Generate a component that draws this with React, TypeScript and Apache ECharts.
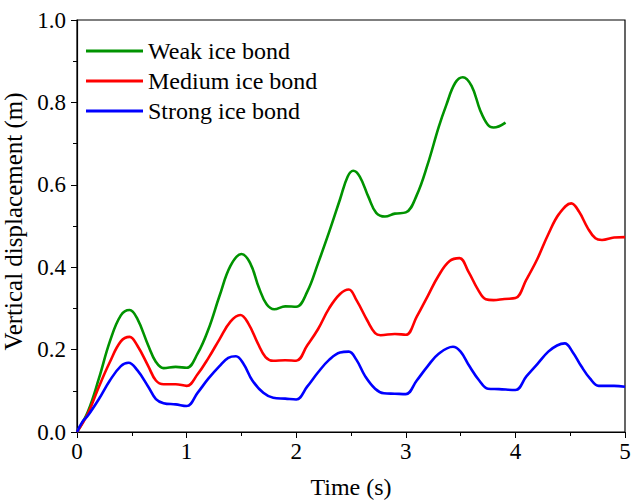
import React, { useEffect, useRef } from "react";
import * as echarts from "echarts";

const seriesNames = ["Weak ice bond", "Medium ice bond", "Strong ice bond"];
const seriesColors = ["#009300", "#ff0000", "#0000ff"];

const weak: [number, number][] = [
  [0, 0], [0.1, 0.05], [0.2, 0.13], [0.3, 0.22], [0.4, 0.283], [0.48, 0.296], [0.55, 0.275],
  [0.65, 0.21], [0.72, 0.17], [0.79, 0.155], [0.9, 0.158], [1.0, 0.156], [1.1, 0.19],
  [1.2, 0.25], [1.3, 0.33], [1.4, 0.403], [1.5, 0.432], [1.58, 0.41], [1.66, 0.35],
  [1.73, 0.31], [1.8, 0.298], [1.9, 0.305], [2.0, 0.304], [2.1, 0.34], [2.2, 0.41],
  [2.3, 0.485], [2.4, 0.565], [2.47, 0.62], [2.52, 0.634], [2.58, 0.62], [2.66, 0.57],
  [2.73, 0.532], [2.81, 0.523], [2.9, 0.53], [3.0, 0.533], [3.1, 0.575], [3.2, 0.65],
  [3.3, 0.74], [3.37, 0.794], [3.45, 0.847], [3.52, 0.861], [3.6, 0.84], [3.68, 0.78],
  [3.75, 0.745], [3.8, 0.739], [3.91, 0.751],
];

const medium: [number, number][] = [
  [0, 0], [0.1, 0.045], [0.2, 0.11], [0.3, 0.17], [0.4, 0.22], [0.48, 0.231], [0.55, 0.21],
  [0.65, 0.16], [0.72, 0.125], [0.79, 0.116], [0.9, 0.116], [1.0, 0.112], [1.1, 0.14],
  [1.2, 0.18], [1.3, 0.225], [1.4, 0.268], [1.49, 0.284], [1.56, 0.265], [1.65, 0.215],
  [1.72, 0.182], [1.79, 0.173], [1.9, 0.174], [2.0, 0.173], [2.1, 0.21], [2.2, 0.25],
  [2.3, 0.3], [2.4, 0.335], [2.48, 0.346], [2.55, 0.32], [2.65, 0.27], [2.72, 0.24],
  [2.77, 0.235], [2.9, 0.238], [3.0, 0.236], [3.1, 0.28], [3.2, 0.33], [3.3, 0.38],
  [3.4, 0.415], [3.49, 0.422], [3.57, 0.39], [3.66, 0.345], [3.73, 0.322], [3.8, 0.32],
  [3.9, 0.323], [4.0, 0.325], [4.1, 0.37], [4.2, 0.42], [4.3, 0.48], [4.4, 0.53],
  [4.51, 0.555], [4.58, 0.535], [4.66, 0.495], [4.73, 0.47], [4.79, 0.466], [4.9, 0.472],
  [5.0, 0.473],
];

const strong: [number, number][] = [
  [0, 0], [0.05, 0.025], [0.1, 0.04], [0.2, 0.08], [0.3, 0.125], [0.4, 0.16], [0.47, 0.168],
  [0.55, 0.15], [0.65, 0.11], [0.72, 0.08], [0.79, 0.07], [0.9, 0.067], [1.0, 0.063],
  [1.1, 0.095], [1.2, 0.13], [1.3, 0.16], [1.38, 0.18], [1.45, 0.184], [1.52, 0.165],
  [1.6, 0.125], [1.7, 0.095], [1.79, 0.083], [1.9, 0.081], [2.0, 0.079], [2.1, 0.11],
  [2.2, 0.145], [2.3, 0.175], [2.4, 0.193], [2.48, 0.195], [2.55, 0.175], [2.63, 0.135],
  [2.72, 0.105], [2.8, 0.094], [2.9, 0.093], [3.0, 0.092], [3.1, 0.125], [3.2, 0.16],
  [3.3, 0.19], [3.43, 0.207], [3.5, 0.195], [3.58, 0.16], [3.67, 0.125], [3.75, 0.105],
  [3.85, 0.104], [4.0, 0.102], [4.1, 0.135], [4.2, 0.165], [4.3, 0.195], [4.38, 0.21],
  [4.45, 0.215], [4.52, 0.195], [4.6, 0.16], [4.68, 0.13], [4.76, 0.112], [4.9, 0.112],
  [5.0, 0.11],
];

const allData = [weak, medium, strong];
const font = "Liberation Serif";

export default function App() {
  const ref = useRef<HTMLDivElement>(null);
  useEffect(() => {
    if (!ref.current) return;
    const chart = echarts.init(ref.current, null, { renderer: "svg" });
    chart.setOption({
      animation: false,
      backgroundColor: "#fff",
      textStyle: { fontFamily: font },
      grid: {
        left: 77, right: 7, top: 20, bottom: 70,
        show: true, borderColor: "#000", borderWidth: 1.2,
        outerBoundsMode: "none",
        containLabel: false,
      },
      legend: {
        data: seriesNames,
        orient: "vertical",
        left: 81, top: 34,
        itemWidth: 57, itemHeight: 3, itemGap: 6,
        icon: "rect",
        textStyle: { fontFamily: font, fontSize: 24, lineHeight: 24, color: "#000" },
      },
      xAxis: {
        type: "value", min: 0, max: 5, interval: 1,
        name: "Time (s)", nameLocation: "middle", nameGap: 43,
        nameTextStyle: { fontFamily: font, fontSize: 24, color: "#000" },
        axisLine: { show: true, onZero: false, lineStyle: { color: "#000", width: 1.2 } },
        axisTick: { show: true, inside: false, length: 6, lineStyle: { color: "#000" } },
        minorTick: { show: true, splitNumber: 2, length: 4, lineStyle: { color: "#000" } },
        axisLabel: { fontFamily: font, fontSize: 23, color: "#000", margin: 8 },
        splitLine: { show: false },
      },
      yAxis: {
        type: "value", min: 0, max: 1, interval: 0.2,
        name: "Vertical displacement (m)", nameLocation: "middle", nameGap: 45,
        nameTextStyle: { fontFamily: font, fontSize: 25, color: "#000", padding: [0, 0, 0, 9] },
        axisLine: { show: true, onZero: false, lineStyle: { color: "#000", width: 1.2 } },
        axisTick: { show: true, inside: false, length: 6, lineStyle: { color: "#000" } },
        minorTick: { show: true, splitNumber: 2, length: 4, lineStyle: { color: "#000" } },
        axisLabel: { fontFamily: font, fontSize: 23, color: "#000", margin: 11, formatter: (v: number) => v.toFixed(1) },
        splitLine: { show: false },
      },
      series: seriesNames.map((n, i) => ({
        name: n,
        type: "line",
        data: allData[i],
        showSymbol: false,
        smooth: 0.4,
        color: seriesColors[i],
        lineStyle: { width: 2.6, color: seriesColors[i] },
      })),
    });
    return () => chart.dispose();
  }, []);
  return (
    <div
      ref={ref}
      style={{ position: "absolute", left: 0, top: 0, width: 632, height: 502 }}
    />
  );
}
